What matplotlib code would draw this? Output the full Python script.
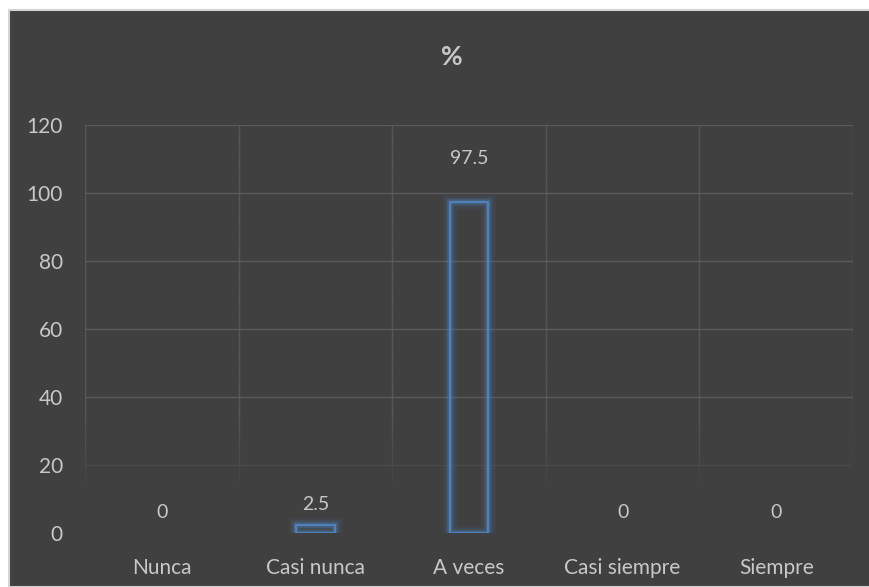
import numpy as np
import matplotlib.pyplot as plt
import matplotlib.patheffects as pe
from matplotlib.patches import Rectangle

categorias = ['Nunca', 'Casi nunca', 'A veces', 'Casi siempre', 'Siempre']
porcentajes = [0, 2.5, 97.5, 0, 0]
yticks = [0, 20, 40, 60, 80, 100, 120]

bg = '#404040'
grid_col = '#5a5a5a'
txt = '#c8c8c8'
azul = '#4f81bd'

plt.rcParams['font.family'] = ['Lato', 'DejaVu Sans']

fig = plt.figure(figsize=(8.7, 5.87), dpi=100, facecolor='white')
# dark panel with thin light frame
fig.patches.append(Rectangle((9 / 870, 0), 1, 1 - 10 / 587, transform=fig.transFigure,
                             facecolor=bg, edgecolor='#d4d4d4', linewidth=1.5, zorder=-5))

ax = fig.add_axes([85 / 870, 54 / 587, 768 / 870, 408 / 587])
ax.set_facecolor('none')
x = np.arange(len(categorias))
ax.set_xlim(-0.5, len(categorias) - 0.5)
ax.set_ylim(0, 120)

# gridlines fading out towards the bottom
def fade(y):
    return float(np.clip((y - 12) / 22, 0, 1))

for yv in yticks:
    a = fade(yv)
    if a > 0:
        ax.axhline(yv, color=grid_col, lw=1, alpha=a, zorder=1)
ys = np.linspace(0, 120, 241)
for xv in np.arange(-0.5, len(categorias), 1.0):
    for y0, y1 in zip(ys[:-1], ys[1:]):
        a = fade((y0 + y1) / 2)
        if a > 0:
            ax.plot([xv, xv], [y0, y1], color=grid_col, lw=1, alpha=a,
                    solid_capstyle='butt', zorder=1)

glow = [pe.Stroke(linewidth=11, foreground=azul, alpha=0.08),
        pe.Stroke(linewidth=7, foreground=azul, alpha=0.15),
        pe.Stroke(linewidth=4, foreground=azul, alpha=0.3),
        pe.Normal()]
bars = ax.bar(x, porcentajes, width=0.25, fill=False, edgecolor=azul,
              linewidth=1.6, zorder=3)
for b, v in zip(bars, porcentajes):
    b.set_path_effects(glow)
    b.set_visible(v > 0)

for xi, v in zip(x, porcentajes):
    off = 43 if v > 50 else 20
    ax.annotate(f'{v:g}', (xi, v), xytext=(0, off), textcoords='offset pixels',
                ha='center', va='center', color=txt, fontsize=14)

ax.set_yticks(yticks)
ax.set_xticks(x)
ax.set_xticklabels(categorias)
ax.tick_params(axis='both', length=0, colors=txt, labelsize=15)
ax.tick_params(axis='y', pad=16)
ax.tick_params(axis='x', pad=18)
for s in ax.spines.values():
    s.set_visible(False)

fig.text(452 / 870, 1 - 57 / 587, '%', ha='center', va='center',
         color=txt, fontsize=19, fontweight='bold')

fig.savefig('out.png', dpi=100, facecolor='white')
